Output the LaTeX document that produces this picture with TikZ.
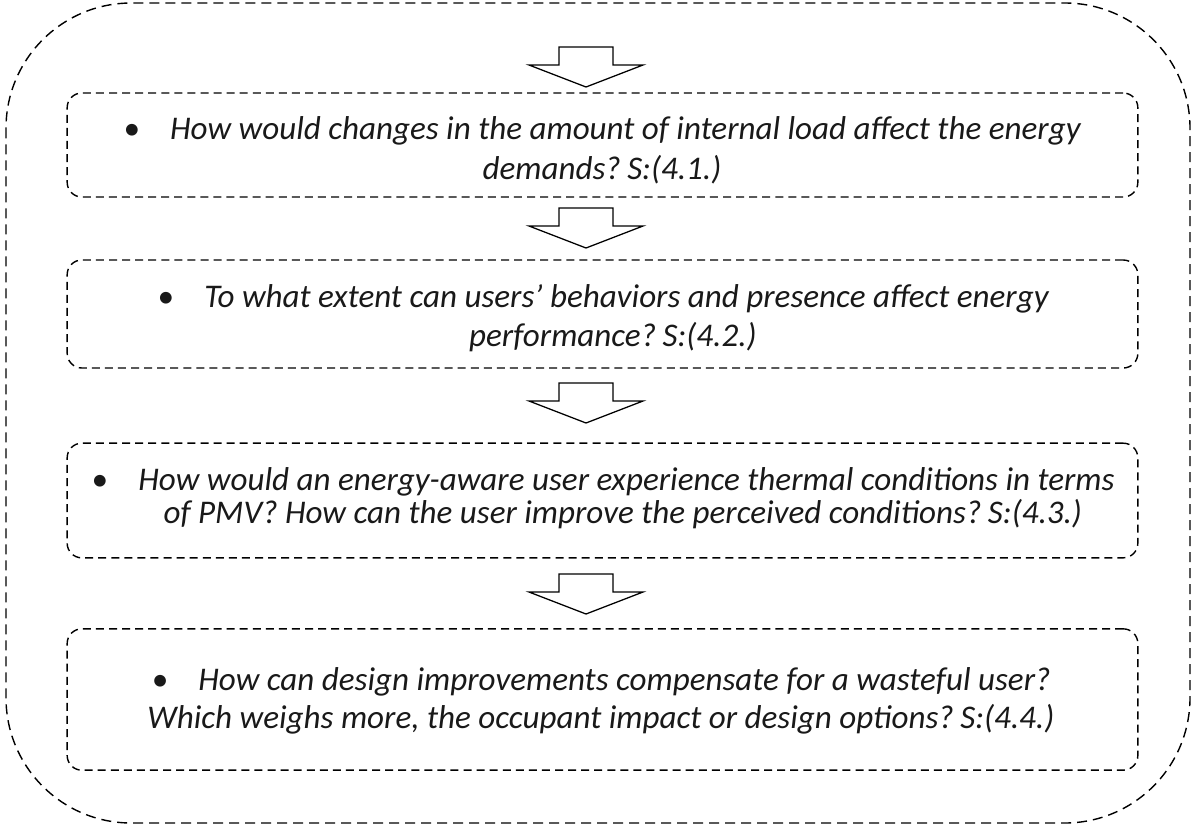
\documentclass[tikz,border=0pt]{standalone}
\usepackage{fontspec}
\setmainfont{Carlito}
\frenchspacing
\newcommand{\qref}[1]{?\hspace{0.2em}S:(#1)}
\begin{document}
\begin{tikzpicture}[x=0.75pt,y=-0.75pt,
  outerframe/.style={draw=black, line width=1.05pt, dash pattern=on 7.5pt off 4.5pt, rounded corners=94pt},
  qbox/.style={draw=black, line width=1.05pt, dash pattern=on 6pt off 3.8pt, rounded corners=11pt,
    minimum width=803pt, inner sep=0pt},
  qtext/.style={inner sep=0pt, align=center, text=black!90,
    font=\fontsize{24.8}{29.5}\selectfont\itshape},
  pics/downarrow/.style={code={
    \draw[line width=0.95pt, fill=white, line join=miter]
      (-27,0) -- (27,0) -- (27,18) -- (57,18) -- (0,40) -- (-57,18) -- (-27,18) -- cycle;}}
]
\useasboundingbox (0,0) rectangle (1192,826);

% outer frame
\draw[outerframe] (6,3) rectangle (1190,823);

% question boxes
\node[qbox, minimum height=78pt] (q1) at (602.5,145) {};
\node[qbox, minimum height=81pt] (q2) at (602.5,314) {};
\node[qbox, minimum height=86pt] (q3) at (602.5,500.5) {};
\node[qbox, minimum height=106pt] (q4) at (602.5,699.5) {};

% question texts
\node[qtext] (t1) at (602,150)
  {\textbullet\hspace{0.92em}How would changes in the amount of internal load affect the energy\\[0.5pt]
   demands\qref{4.1.}};
\node[qtext] (t2) at (603,318)
  {\textbullet\hspace{0.92em}To what extent can users’ behaviors and presence affect energy\\[0pt]
   \hspace{0.6em}performance\qref{4.2.}};
\node[qtext] (t3) at (603,498.5)
  {\textbullet\hspace{0.92em}How would an energy-aware user experience thermal conditions in terms\\[-5pt]
   \hspace{1.2em}of PMV? How can the user improve the perceived conditions\qref{4.3.}};
\node[qtext] (t4) at (601,701)
  {\textbullet\hspace{0.92em}How can design improvements compensate for a wasteful user?\\[-1pt]
   Which weighs more, the occupant impact or design options\qref{4.4.}};

% flow arrows
\pic at (586,47) {downarrow};
\pic at (586,208) {downarrow};
\pic at (586,383) {downarrow};
\pic at (586,574) {downarrow};
\end{tikzpicture}
\end{document}
